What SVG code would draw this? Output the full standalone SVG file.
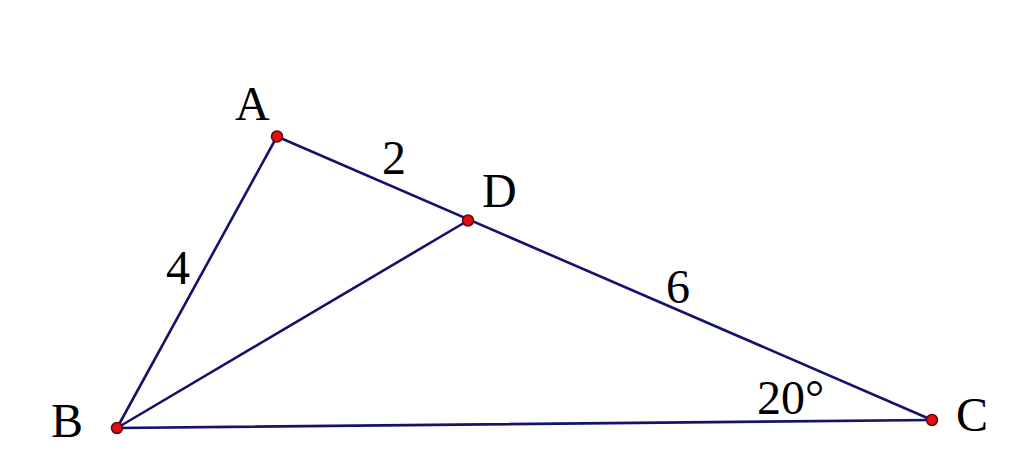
<svg xmlns="http://www.w3.org/2000/svg" width="1024" height="470" viewBox="0 0 1024 470">
<style>
.seg{stroke:#14136b;stroke-width:2.6;fill:none;stroke-linecap:round}
.pt{fill:#e30d0d;stroke:#5a0a0a;stroke-width:1.5}
.lbl{font-family:"Liberation Serif","Times New Roman",serif;font-size:48px;fill:#000}
</style>
<rect width="1024" height="470" fill="#fff"/>
<g id="connectors">
<line class="seg" x1="277" y1="136.5" x2="117" y2="428"/>
<line class="seg" x1="277" y1="136.5" x2="932" y2="420"/>
<line class="seg" x1="117" y1="428" x2="468" y2="220.5"/>
<line class="seg" x1="117" y1="428" x2="932" y2="420"/>
</g>
<g id="A"><circle class="pt" cx="277" cy="136.5" r="5.5"/><text class="lbl" x="235" y="120">A</text></g>
<g id="D"><circle class="pt" cx="468" cy="220.5" r="5.5"/><text class="lbl" x="482" y="207">D</text></g>
<g id="B"><circle class="pt" cx="117" cy="428" r="5.5"/><text class="lbl" x="51" y="437">B</text></g>
<g id="C"><circle class="pt" cx="932" cy="420" r="5.5"/><text class="lbl" x="956" y="431">C</text></g>
<g id="labels">
<text class="lbl" x="382" y="174">2</text>
<text class="lbl" x="166" y="284">4</text>
<text class="lbl" x="666" y="303">6</text>
<text class="lbl" x="757" y="414">20°</text>
</g>
</svg>
